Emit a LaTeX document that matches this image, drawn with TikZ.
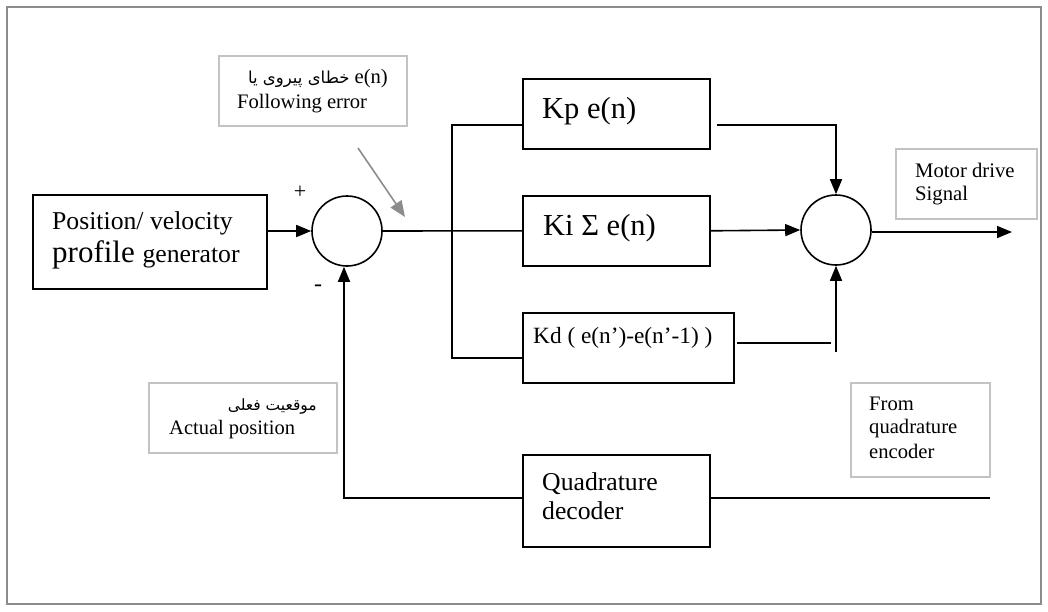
\documentclass[tikz,border=0pt]{standalone}
\usepackage{fontspec}
\setmainfont{Liberation Serif}
\newfontfamily\arabicfont[Script=Arabic]{DejaVu Sans}
\TeXXeTstate=1
\usetikzlibrary{arrows.meta}
\newcommand{\fsz}[1]{\fontsize{#1}{#1}\selectfont}
\begin{document}
\begin{tikzpicture}[x=1pt,y=-1pt,
  blk/.style={draw=black, line width=1.6pt, rectangle, inner sep=0pt, anchor=north west},
  gbox/.style={draw={rgb,255:red,195;green,195;blue,195}, line width=1.5pt, rectangle, inner sep=0pt, anchor=north west},
  sumc/.style={draw=black, line width=1.6pt, circle, minimum size=70pt, inner sep=0pt},
  wire/.style={line width=1.6pt},
  arr/.style={wire, -{Triangle[length=15pt,width=12pt]}},
  garr/.style={line width=1.6pt, draw={rgb,255:red,140;green,140;blue,140}, -{Triangle[length=16pt,width=13pt]}},
  txt/.style={inner sep=0pt, anchor=base west},
  rtxt/.style={inner sep=0pt, anchor=base east},
]
\useasboundingbox (0,0) rectangle (1048,611);
\draw[line width=2pt, draw={rgb,255:red,140;green,140;blue,140}] (7,7) rectangle (1041,604);

% blocks
\node[blk, minimum width=234pt, minimum height=94pt] (gen) at (32,194) {};
\node[blk, minimum width=187pt, minimum height=70pt] (kp) at (522,78) {};
\node[blk, minimum width=187pt, minimum height=70pt] (ki) at (522,195) {};
\node[blk, minimum width=211pt, minimum height=70pt] (kd) at (522,312) {};
\node[blk, minimum width=187pt, minimum height=92pt] (quad) at (522,454) {};
\node[sumc] (s1) at (347,231) {};
\node[sumc] (s2) at (836,230) {};

% gray label boxes
\node[gbox, minimum width=188pt, minimum height=70pt] (gfe) at (218,55) {};
\node[gbox, minimum width=188pt, minimum height=70pt] (gact) at (148,382) {};
\node[gbox, minimum width=141pt, minimum height=70pt] (gmd) at (895,148) {};
\node[gbox, minimum width=139pt, minimum height=94pt] (genc) at (850,382) {};

% texts
\node[txt, font=\fsz{25.7}] (t1) at (52,229) {Position/ velocity};
\node[txt] (t2) at (52,262) {\fsz{31}profile \fsz{25.7}generator};
\node[txt, font=\fsz{30.5}] (tkp) at (542,118) {Kp e(n)};
\node[txt, font=\fsz{30.5}] (tki) at (543,235) {Ki Σ e(n)};
\node[txt, font=\fsz{23.3}] (tkd) at (533,343) {Kd ( e(n’)-e(n’-1) )};
\node[txt, font=\fsz{25.7}] (tq1) at (542,490) {Quadrature};
\node[txt, font=\fsz{25.7}] (tq2) at (542,519) {decoder};
\node[txt, font=\fsz{20.7}] (tm1) at (915,177) {Motor drive};
\node[txt, font=\fsz{20.7}] (tm2) at (915,200) {Signal};
\node[txt, font=\fsz{20.6}] (te1) at (869,410) {From};
\node[txt, font=\fsz{20.6}] (te2) at (869,433) {quadrature};
\node[txt, font=\fsz{20.6}] (te3) at (869,458) {encoder};
\node[rtxt] (tf1) at (388,83) {\beginR\beginL\fsz{20.6}e(n)\endL\ {\arabicfont\fsz{16.5}خطای پیروی یا}\endR};
\node[txt, font=\fsz{20.6}] (tf2) at (237,108) {Following error};
\node[rtxt] (ta1) at (317,410) {{\arabicfont\fsz{15.5}\beginR موقعیت فعلی\endR}};
\node[txt, font=\fsz{20.5}] (ta2) at (169,434) {Actual position};
\node[inner sep=0pt, font=\fsz{22}] (plus) at (300,192) {+};
\node[inner sep=0pt, font=\fsz{24}] (minus) at (318,288) {-};

% coordinates
\coordinate (bTop) at (452,125);
\coordinate (bBot) at (452,358);
\coordinate (kpo) at (717,125);
\coordinate (kdo) at (737,343);
\coordinate (kde) at (831,343);
\coordinate (kdu) at (836,352);
\coordinate (out) at (1012,232);
\coordinate (enc) at (990,498);
\coordinate (fbx) at (344,498);
\coordinate (ga) at (358,148);
\coordinate (gb) at (405,217);

% connectors
\draw[arr] (gen.east |- s1.west) -- (s1.west);
\draw[wire] (s1.east) -- (ki.west);
\draw[wire] (bTop -| kp.west) -- (bTop) -- (bBot) -- (bBot -| kd.west);
\draw[arr] (kpo) -| (s2.north);
\draw[arr] (ki.east) -- (s2.west);
\draw[wire] (kdo) -- (kde);
\draw[arr] (kdu) -- (s2.south);
\draw[arr] (s2.east |- out) -- (out);
\draw[wire] (enc) -- (enc -| quad.east);
\draw[arr] (quad.west |- enc) -- (fbx) -- (fbx |- s1.south);
\draw[garr] (ga) -- (gb);
\end{tikzpicture}
\end{document}
